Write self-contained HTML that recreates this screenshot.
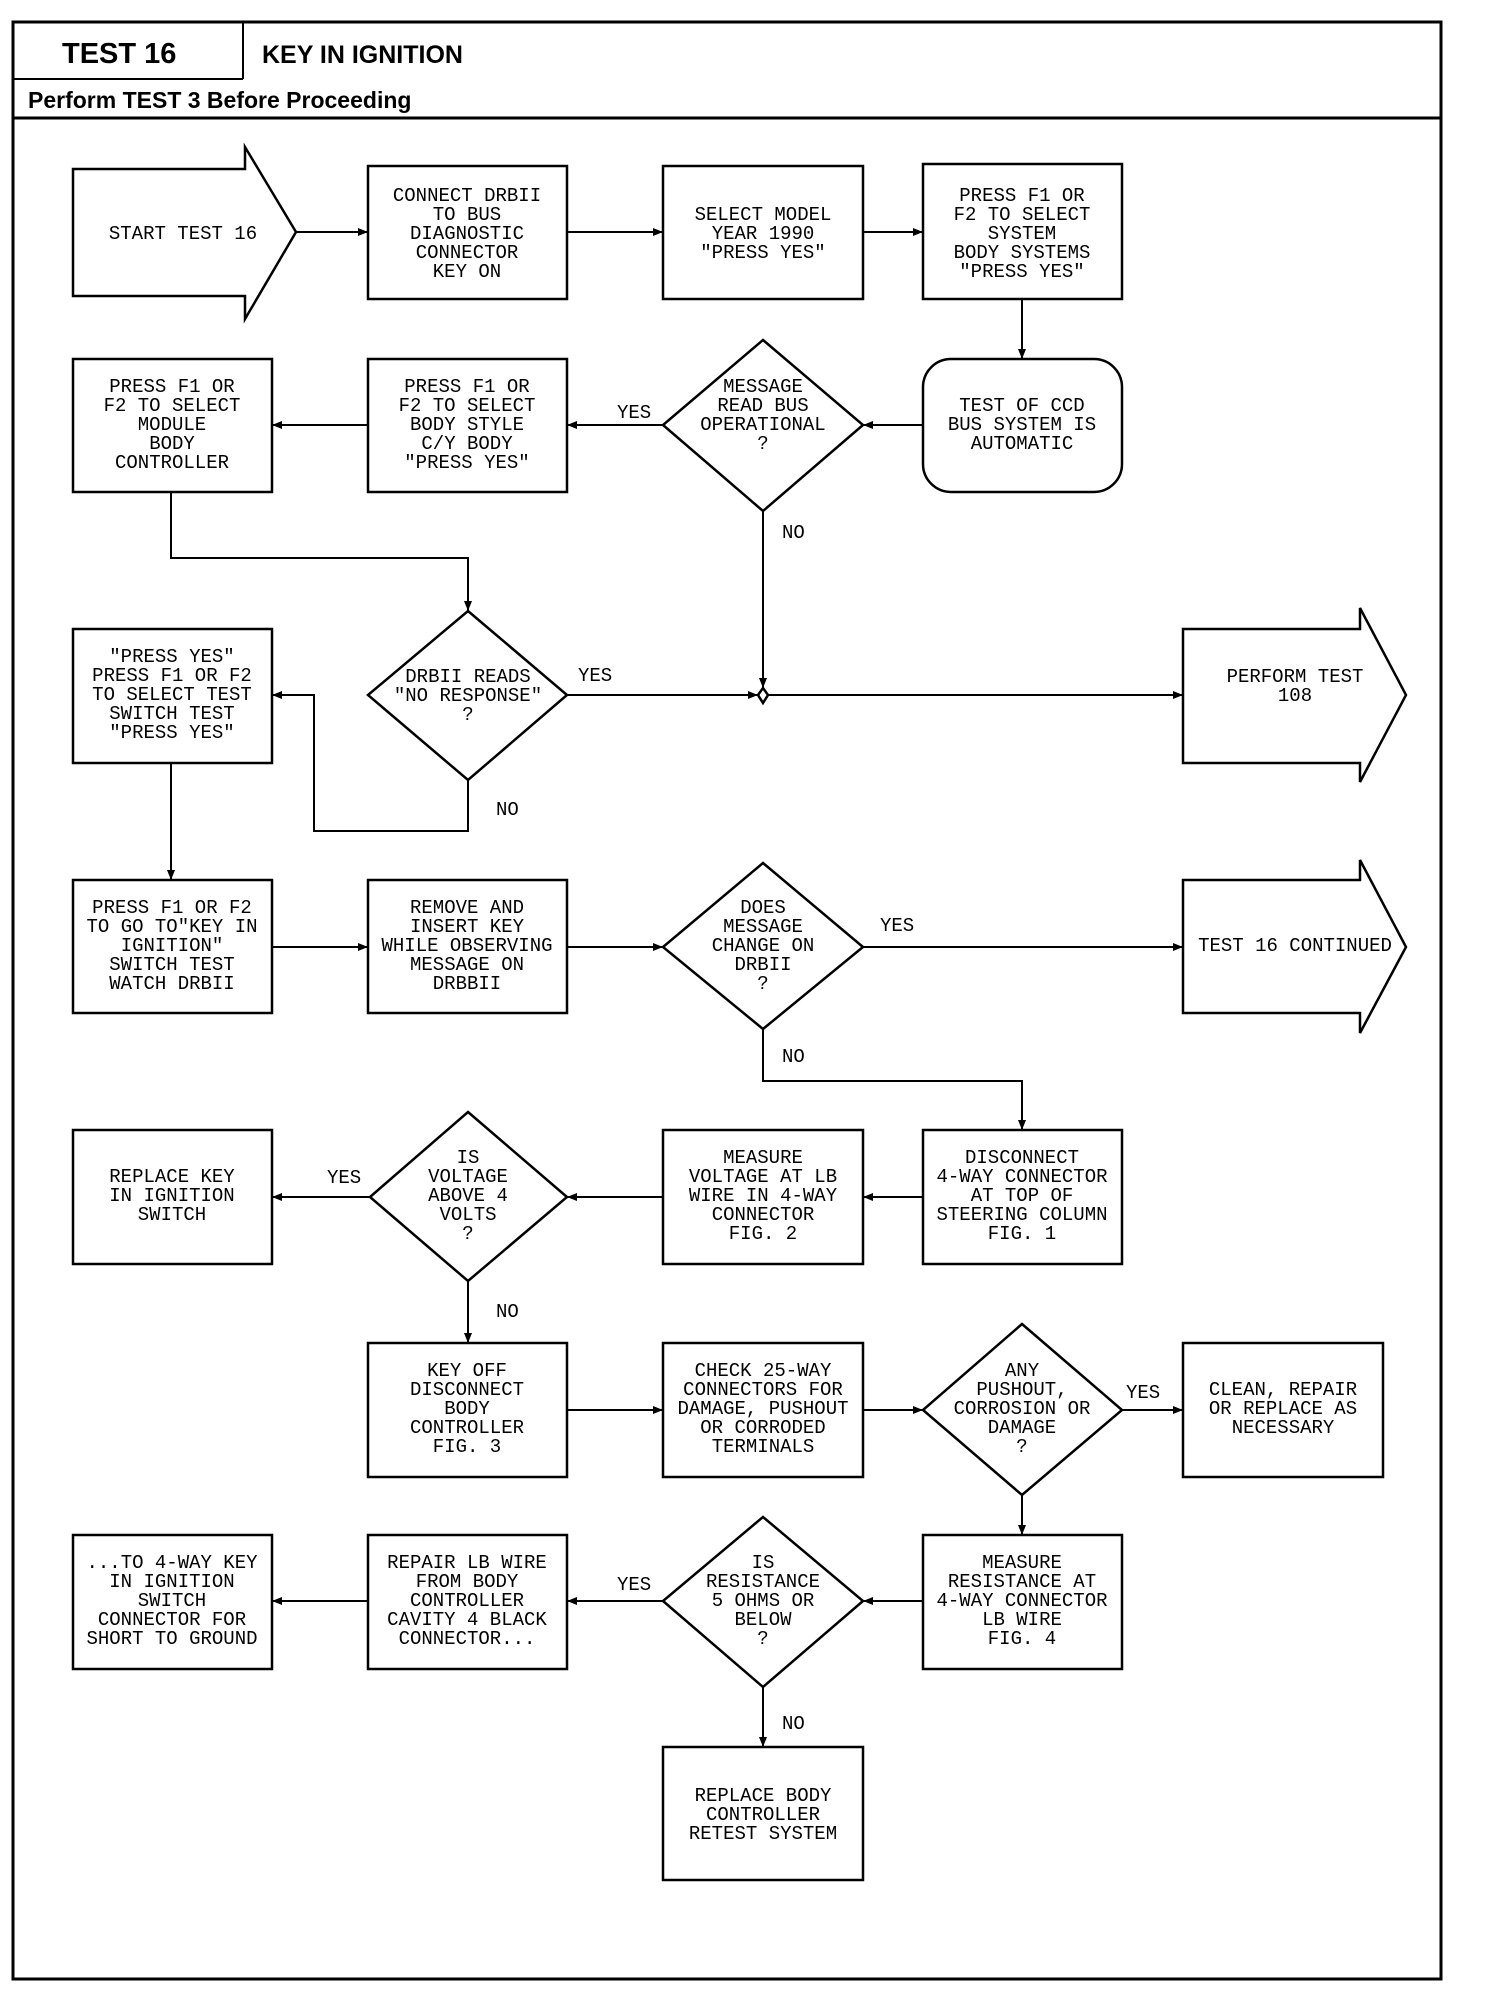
<!DOCTYPE html>
<html><head><meta charset="utf-8"><style>
html,body{margin:0;padding:0;background:#fff}
svg{display:block}
.t{font-family:"Liberation Mono",monospace;font-size:19px;text-anchor:middle;fill:#000}
.l{font-family:"Liberation Mono",monospace;font-size:19px;fill:#000}
.h{font-family:"Liberation Sans",sans-serif;font-weight:bold;fill:#000}
</style></head><body>
<svg width="1504" height="2006" viewBox="0 0 1504 2006" xmlns="http://www.w3.org/2000/svg">
<defs><marker id="a" markerWidth="10" markerHeight="8" refX="10" refY="4" orient="auto" markerUnits="userSpaceOnUse"><path d="M0,0 L10,4 L0,8 z" fill="#000"/></marker></defs>
<g fill="none" stroke="#000" stroke-width="2.5">
<rect x="13" y="22" width="1428" height="1957" stroke-width="3"/>
<line x1="13" y1="79" x2="243" y2="79" stroke-width="2"/>
<line x1="243" y1="22" x2="243" y2="79" stroke-width="2"/>
<line x1="13" y1="118" x2="1441" y2="118" stroke-width="3"/>
<path d="M73,169 H245 V147 L296,232 L245,319 V296 H73 Z"/>
<rect x="368" y="166" width="199" height="133"/>
<rect x="663" y="166" width="200" height="133"/>
<rect x="923" y="164" width="199" height="135"/>
<rect x="73" y="359" width="199" height="133"/>
<rect x="368" y="359" width="199" height="133"/>
<path d="M763,340 L863,425 L763,511 L663,425 Z"/>
<rect x="923" y="359" width="199" height="133" rx="28"/>
<path d="M468,611 L567,695 L468,780 L368,695 Z"/>
<rect x="73" y="629" width="199" height="134"/>
<path d="M763,688 L768,695 L763,703 L758,695 Z"/>
<path d="M1183,629 H1360 V608 L1406,695 L1360,782 V763 H1183 Z"/>
<rect x="73" y="880" width="199" height="133"/>
<rect x="368" y="880" width="199" height="133"/>
<path d="M763,863 L863,947 L763,1029 L663,947 Z"/>
<path d="M1183,880 H1360 V860 L1406,947 L1360,1033 V1013 H1183 Z"/>
<rect x="73" y="1130" width="199" height="134"/>
<path d="M468,1112 L567,1197 L468,1281 L370,1197 Z"/>
<rect x="663" y="1130" width="200" height="134"/>
<rect x="923" y="1130" width="199" height="134"/>
<rect x="368" y="1343" width="199" height="134"/>
<rect x="663" y="1343" width="200" height="134"/>
<path d="M1022,1324 L1122,1410 L1022,1495 L923,1410 Z"/>
<rect x="1183" y="1343" width="200" height="134"/>
<rect x="73" y="1535" width="199" height="134"/>
<rect x="368" y="1535" width="199" height="134"/>
<path d="M763,1517 L863,1601 L763,1687 L663,1601 Z"/>
<rect x="923" y="1535" width="199" height="134"/>
<rect x="663" y="1747" width="200" height="133"/>
</g>
<g fill="none" stroke="#000" stroke-width="2" marker-end="url(#a)">
<line x1="296" y1="232" x2="368" y2="232"/>
<line x1="567" y1="232" x2="663" y2="232"/>
<line x1="863" y1="232" x2="923" y2="232"/>
<line x1="1022" y1="299" x2="1022" y2="359"/>
<line x1="923" y1="425" x2="863" y2="425"/>
<line x1="663" y1="425" x2="567" y2="425"/>
<line x1="368" y1="425" x2="272" y2="425"/>
<path d="M171,492 V558 H468 V611"/>
<line x1="763" y1="511" x2="763" y2="688"/>
<line x1="567" y1="695" x2="758" y2="695"/>
<line x1="768" y1="695" x2="1183" y2="695"/>
<path d="M468,780 V831 H314 V695 H272"/>
<line x1="171" y1="763" x2="171" y2="880"/>
<line x1="272" y1="947" x2="368" y2="947"/>
<line x1="567" y1="947" x2="663" y2="947"/>
<line x1="863" y1="947" x2="1183" y2="947"/>
<path d="M763,1029 V1081 H1022 V1130"/>
<line x1="923" y1="1197" x2="863" y2="1197"/>
<line x1="663" y1="1197" x2="567" y2="1197"/>
<line x1="370" y1="1197" x2="272" y2="1197"/>
<line x1="468" y1="1281" x2="468" y2="1343"/>
<line x1="567" y1="1410" x2="663" y2="1410"/>
<line x1="863" y1="1410" x2="923" y2="1410"/>
<line x1="1122" y1="1410" x2="1183" y2="1410"/>
<line x1="1022" y1="1495" x2="1022" y2="1535"/>
<line x1="923" y1="1601" x2="863" y2="1601"/>
<line x1="663" y1="1601" x2="567" y2="1601"/>
<line x1="368" y1="1601" x2="272" y2="1601"/>
<line x1="763" y1="1687" x2="763" y2="1747"/>
</g>
<text class="h" x="62" y="63" font-size="29">TEST 16</text>
<text class="h" x="262" y="63" font-size="25">KEY IN IGNITION</text>
<text class="h" x="28" y="108" font-size="23">Perform TEST 3 Before Proceeding</text>
<g class="t">
<text x="183" y="239">START TEST 16</text>
<text x="467" y="201">CONNECT DRBII</text><text x="467" y="220">TO BUS</text><text x="467" y="239">DIAGNOSTIC</text><text x="467" y="258">CONNECTOR</text><text x="467" y="277">KEY ON</text>
<text x="763" y="220">SELECT MODEL</text><text x="763" y="239">YEAR 1990</text><text x="763" y="258">"PRESS YES"</text>
<text x="1022" y="201">PRESS F1 OR</text><text x="1022" y="220">F2 TO SELECT</text><text x="1022" y="239">SYSTEM</text><text x="1022" y="258">BODY SYSTEMS</text><text x="1022" y="277">"PRESS YES"</text>
<text x="172" y="392">PRESS F1 OR</text><text x="172" y="411">F2 TO SELECT</text><text x="172" y="430">MODULE</text><text x="172" y="449">BODY</text><text x="172" y="468">CONTROLLER</text>
<text x="467" y="392">PRESS F1 OR</text><text x="467" y="411">F2 TO SELECT</text><text x="467" y="430">BODY STYLE</text><text x="467" y="449">C/Y BODY</text><text x="467" y="468">"PRESS YES"</text>
<text x="763" y="392">MESSAGE</text><text x="763" y="411">READ BUS</text><text x="763" y="430">OPERATIONAL</text><text x="763" y="449">?</text>
<text x="1022" y="411">TEST OF CCD</text><text x="1022" y="430">BUS SYSTEM IS</text><text x="1022" y="449">AUTOMATIC</text>
<text x="172" y="662">"PRESS YES"</text><text x="172" y="681">PRESS F1 OR F2</text><text x="172" y="700">TO SELECT TEST</text><text x="172" y="719">SWITCH TEST</text><text x="172" y="738">"PRESS YES"</text>
<text x="468" y="682">DRBII READS</text><text x="468" y="701">"NO RESPONSE"</text><text x="468" y="720">?</text>
<text x="1295" y="682">PERFORM TEST</text><text x="1295" y="701">108</text>
<text x="172" y="913">PRESS F1 OR F2</text><text x="172" y="932">TO GO TO"KEY IN</text><text x="172" y="951">IGNITION"</text><text x="172" y="970">SWITCH TEST</text><text x="172" y="989">WATCH DRBII</text>
<text x="467" y="913">REMOVE AND</text><text x="467" y="932">INSERT KEY</text><text x="467" y="951">WHILE OBSERVING</text><text x="467" y="970">MESSAGE ON</text><text x="467" y="989">DRBBII</text>
<text x="763" y="913">DOES</text><text x="763" y="932">MESSAGE</text><text x="763" y="951">CHANGE ON</text><text x="763" y="970">DRBII</text><text x="763" y="989">?</text>
<text x="1295" y="951">TEST 16 CONTINUED</text>
<text x="172" y="1182">REPLACE KEY</text><text x="172" y="1201">IN IGNITION</text><text x="172" y="1220">SWITCH</text>
<text x="468" y="1163">IS</text><text x="468" y="1182">VOLTAGE</text><text x="468" y="1201">ABOVE 4</text><text x="468" y="1220">VOLTS</text><text x="468" y="1239">?</text>
<text x="763" y="1163">MEASURE</text><text x="763" y="1182">VOLTAGE AT LB</text><text x="763" y="1201">WIRE IN 4-WAY</text><text x="763" y="1220">CONNECTOR</text><text x="763" y="1239">FIG. 2</text>
<text x="1022" y="1163">DISCONNECT</text><text x="1022" y="1182">4-WAY CONNECTOR</text><text x="1022" y="1201">AT TOP OF</text><text x="1022" y="1220">STEERING COLUMN</text><text x="1022" y="1239">FIG. 1</text>
<text x="467" y="1376">KEY OFF</text><text x="467" y="1395">DISCONNECT</text><text x="467" y="1414">BODY</text><text x="467" y="1433">CONTROLLER</text><text x="467" y="1452">FIG. 3</text>
<text x="763" y="1376">CHECK 25-WAY</text><text x="763" y="1395">CONNECTORS FOR</text><text x="763" y="1414">DAMAGE, PUSHOUT</text><text x="763" y="1433">OR CORRODED</text><text x="763" y="1452">TERMINALS</text>
<text x="1022" y="1376">ANY</text><text x="1022" y="1395">PUSHOUT,</text><text x="1022" y="1414">CORROSION OR</text><text x="1022" y="1433">DAMAGE</text><text x="1022" y="1452">?</text>
<text x="1283" y="1395">CLEAN, REPAIR</text><text x="1283" y="1414">OR REPLACE AS</text><text x="1283" y="1433">NECESSARY</text>
<text x="172" y="1568">...TO 4-WAY KEY</text><text x="172" y="1587">IN IGNITION</text><text x="172" y="1606">SWITCH</text><text x="172" y="1625">CONNECTOR FOR</text><text x="172" y="1644">SHORT TO GROUND</text>
<text x="467" y="1568">REPAIR LB WIRE</text><text x="467" y="1587">FROM BODY</text><text x="467" y="1606">CONTROLLER</text><text x="467" y="1625">CAVITY 4 BLACK</text><text x="467" y="1644">CONNECTOR...</text>
<text x="763" y="1568">IS</text><text x="763" y="1587">RESISTANCE</text><text x="763" y="1606">5 OHMS OR</text><text x="763" y="1625">BELOW</text><text x="763" y="1644">?</text>
<text x="1022" y="1568">MEASURE</text><text x="1022" y="1587">RESISTANCE AT</text><text x="1022" y="1606">4-WAY CONNECTOR</text><text x="1022" y="1625">LB WIRE</text><text x="1022" y="1644">FIG. 4</text>
<text x="763" y="1801">REPLACE BODY</text><text x="763" y="1820">CONTROLLER</text><text x="763" y="1839">RETEST SYSTEM</text>
</g>
<g class="l">
<text x="617" y="418">YES</text><text x="782" y="538">NO</text>
<text x="578" y="681">YES</text><text x="496" y="815">NO</text>
<text x="880" y="931">YES</text><text x="782" y="1062">NO</text>
<text x="327" y="1183">YES</text><text x="496" y="1317">NO</text>
<text x="1126" y="1398">YES</text>
<text x="617" y="1590">YES</text><text x="782" y="1729">NO</text>
</g>
</svg>
</body></html>
